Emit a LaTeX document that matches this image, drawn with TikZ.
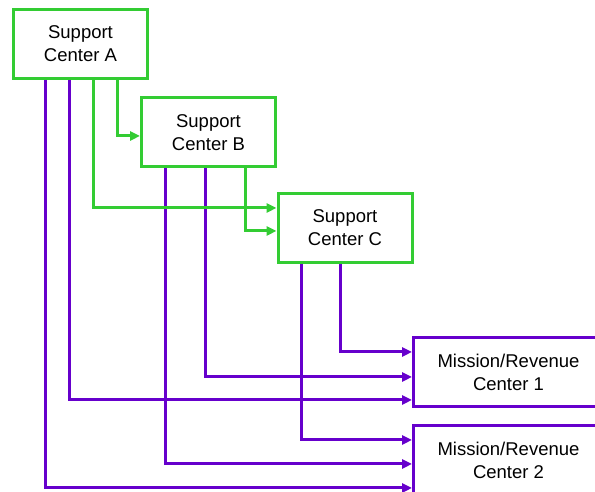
\documentclass[tikz,border=0pt]{standalone}
\usepackage{fontspec}
\setmainfont{Liberation Sans}
\usetikzlibrary{arrows.meta}
\definecolor{grn}{HTML}{33CC33}
\definecolor{prp}{HTML}{6600CC}
\begin{document}
\begin{tikzpicture}[x=1pt,y=1pt,
  box/.style={draw, line width=3pt, fill=white, align=center, inner sep=0pt,
    font=\fontsize{18.5}{23}\selectfont, minimum width=134pt, minimum height=69pt},
  sbox/.style={box, draw=grn},
  mbox/.style={box, draw=prp, minimum width=190pt},
  garr/.style={draw=grn, line width=3pt, -{Triangle[length=10pt,width=9pt]}, fill=none},
  parr/.style={draw=prp, line width=3pt, -{Triangle[length=10pt,width=9pt]}, fill=none}]
\useasboundingbox (0,0) rectangle (595,492);
\clip (0,0) rectangle (595,492);
\node[sbox] (A) at (80.5,448) {Support\\Center A};
\node[sbox] (B) at (208.5,359.5) {Support\\Center B};
\node[sbox] (C) at (345,264) {Support\\Center C};
\node[mbox] (M1) at (508.5,120) {Mission/Revenue\\Center 1};
\node[mbox] (M2) at (508.5,32) {Mission/Revenue\\Center 2};
% purple connectors
\draw[parr] ([xshift=-11.5pt]A.south) |- ([yshift=-28pt]M1.west);
\draw[parr] ([xshift=-35.5pt]A.south) |- ([yshift=-28pt]M2.west);
\draw[parr] ([xshift=-3.5pt]B.south) |- ([yshift=-5pt]M1.west);
\draw[parr] ([xshift=-43.5pt]B.south) |- ([yshift=-4pt]M2.west);
\draw[parr] ([xshift=-5pt]C.south) |- ([yshift=20pt]M1.west);
\draw[parr] ([xshift=-44pt]C.south) |- ([yshift=20pt]M2.west);
% green connectors
\draw[garr] ([xshift=36.5pt]A.south) |- ([yshift=-3.5pt]B.west);
\draw[garr] ([xshift=12.5pt]A.south) |- ([yshift=20pt]C.west);
\draw[garr] ([xshift=36.5pt]B.south) |- ([yshift=-3pt]C.west);
\end{tikzpicture}
\end{document}
